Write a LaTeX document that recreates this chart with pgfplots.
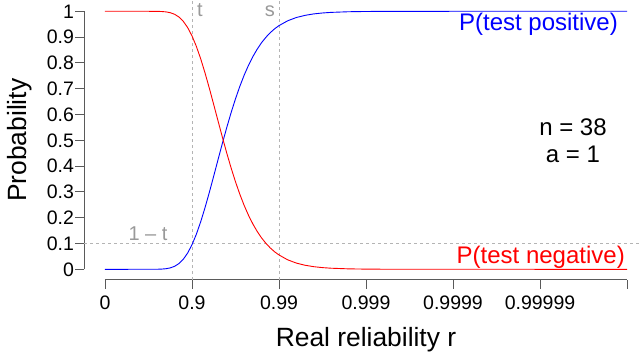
\documentclass[border=0pt]{standalone}
\usepackage{pgfplots}
\pgfplotsset{compat=1.18}
\usepackage{pgfplotstable}
\usepackage{fontspec}
\setmainfont{Liberation Sans}
\definecolor{axgray}{HTML}{5A5A5A}
\definecolor{dashgray}{HTML}{B4B4B4}
\definecolor{labgray}{HTML}{999999}
\definecolor{rblue}{HTML}{0000FF}
\definecolor{rred}{HTML}{FF0000}

\pgfplotstableread{
x     pos      neg
0     0        1
0.25  0        1
0.5   0.00001  0.99999
0.55  0.00005  0.99995
0.6   0.00023  0.99977
0.65  0.00079  0.99921
0.7   0.00223  0.99777
0.75  0.00541  0.99459
0.8   0.01157  0.98843
0.85  0.0222   0.9778
0.9   0.0389   0.9611
0.95  0.0631   0.9369
1.0   0.0954   0.9046
1.05  0.1359   0.8641
1.1   0.1842   0.8158
1.15  0.2393   0.7607
1.2   0.2990   0.7010
1.25  0.3620   0.6380
1.3   0.4259   0.5741
1.35  0.4891   0.5109
1.4   0.5501   0.4499
1.45  0.6077   0.3923
1.5   0.6609   0.3391
1.55  0.7093   0.2907
1.6   0.7528   0.2472
1.65  0.7911   0.2089
1.7   0.8246   0.1754
1.75  0.8536   0.1464
1.8   0.8785   0.1215
1.85  0.8995   0.1005
1.9   0.9173   0.0827
1.95  0.9322   0.0678
2.0   0.9445   0.0555
2.1   0.9633   0.0367
2.2   0.9760   0.0240
2.3   0.9843   0.0157
2.4   0.9899   0.0101
2.5   0.9935   0.0065
2.6   0.9958   0.0042
2.8   0.9983   0.0017
3.0   0.9993   0.0007
3.25  0.99978  0.00022
3.5   0.99993  0.00007
4     0.99999  0.00001
5     1        0
6     1        0
}\curves

\begin{document}
\begin{tikzpicture}
\begin{axis}[
  x=87pt, y=258pt,
  xmin=-0.24, xmax=6.24, ymin=-0.04, ymax=1.04,
  axis x line*=bottom, axis y line*=left,
  x axis line style={-, axgray, line width=0.8pt, shorten <=20.88pt, shorten >=20.88pt},
  y axis line style={-, axgray, line width=0.8pt, shorten <=10.32pt, shorten >=10.32pt},
  xtick={0,1,2,3,4,5,6},
  xticklabels={0,0.9,0.99,0.999,0.9999,0.99999,{}},
  ytick={0,0.1,0.2,0.3,0.4,0.5,0.6,0.7,0.8,0.9,1},
  yticklabels={0,0.1,0.2,0.3,0.4,0.5,0.6,0.7,0.8,0.9,1},
  tick align=outside,
  major tick length=9pt,
  tick style={axgray, line width=0.8pt},
  /pgf/number format/assume math mode=true,
  tick label style={font=\fontsize{19.5}{20}\selectfont, black},
  yticklabel style={inner sep=1pt},
  xticklabel style={yshift=-4pt},
  xlabel={Real reliability r},
  ylabel={Probability},
  every axis x label/.style={at={(axis cs:3,-0.2973)}, anchor=base, font=\fontsize{26.4}{28}\selectfont},
  every axis y label/.style={at={(axis cs:-0.908,0.5)}, rotate=90, anchor=base, font=\fontsize{26.4}{28}\selectfont},
  clip=true,
]
\addplot[dashgray, line width=0.8pt, dash pattern=on 3pt off 3pt] coordinates {(1,-0.04) (1,1.04)};
\addplot[dashgray, line width=0.8pt, dash pattern=on 3pt off 3pt] coordinates {(2,-0.04) (2,1.04)};
\addplot[dashgray, line width=0.8pt, dash pattern=on 3pt off 3pt] coordinates {(-0.24,0.1) (6.24,0.1)};
\addplot[rblue, line width=0.9pt] table[x=x, y=pos] {\curves};
\addplot[rred, line width=0.9pt] table[x=x, y=neg] {\curves};
\node[anchor=base west, labgray, font=\fontsize{20}{22}\selectfont, inner sep=0pt] at (axis cs:1.057,0.979) {t};
\node[anchor=base east, labgray, font=\fontsize{20}{22}\selectfont, inner sep=0pt] at (axis cs:1.954,0.979) {s};
\node[anchor=base, labgray, font=\fontsize{20}{22}\selectfont, inner sep=0pt] at (axis cs:0.494,0.11) {1 – t};
\node[anchor=base east, rblue, font=\fontsize{24}{26}\selectfont, inner sep=0pt] at (axis cs:5.897,0.9275) {P(test positive)};
\node[anchor=base east, rred, font=\fontsize{24}{26}\selectfont, inner sep=0pt] at (axis cs:5.977,0.023) {P(test negative)};
\node[anchor=base, font=\fontsize{24}{26}\selectfont, inner sep=0pt] at (axis cs:5.379,0.5205) {n = 38};
\node[anchor=base, font=\fontsize{24}{26}\selectfont, inner sep=0pt] at (axis cs:5.379,0.413) {a = 1};
\coordinate (bl) at (axis cs:-1.2069,-0.3357);
\coordinate (tr) at (axis cs:6.1724,1.0438);
\end{axis}
\pgfresetboundingbox
\path[use as bounding box] (bl) rectangle (tr);
\end{tikzpicture}
\end{document}
